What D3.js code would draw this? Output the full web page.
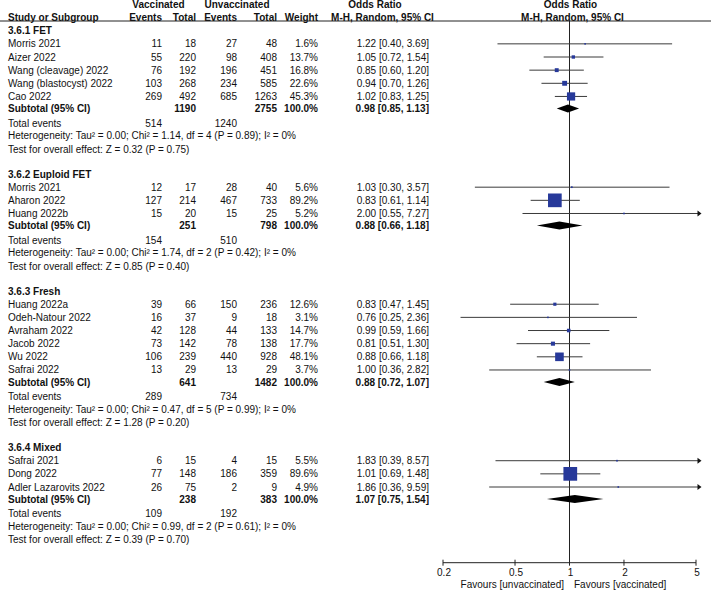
<!DOCTYPE html>
<html>
<head>
<meta charset="utf-8">
<script src="https://cdn.jsdelivr.net/npm/d3@7/dist/d3.min.js"></script>
<style>
  html, body { margin: 0; padding: 0; background: #fff; }
  svg text { font-family: "Liberation Sans", Arial, sans-serif; font-size: 10px; fill: #111; }
</style>
</head>
<body>
<svg id="chart" width="711" height="590"></svg>
<script>
// ---------- DATA ----------
const subgroupNames = ["3.6.1 FET", "3.6.2 Euploid FET", "3.6.3 Fresh", "3.6.4 Mixed"];

const studyNames = [
  "Morris 2021", "Aizer 2022", "Wang (cleavage) 2022", "Wang (blastocyst) 2022", "Cao 2022",
  "Morris 2021", "Aharon 2022", "Huang 2022b",
  "Huang 2022a", "Odeh-Natour 2022", "Avraham 2022", "Jacob 2022", "Wu 2022", "Safrai 2022",
  "Safrai 2021", "Dong 2022", "Adler Lazarovits 2022"
];
const studyGroup   = [0,0,0,0,0, 1,1,1, 2,2,2,2,2,2, 3,3,3];
const vacEvents    = [11, 55, 76, 103, 269, 12, 127, 15, 39, 16, 42, 73, 106, 13, 6, 77, 26];
const vacTotals    = [18, 220, 192, 268, 492, 17, 214, 20, 66, 37, 128, 142, 239, 29, 15, 148, 75];
const unvacEvents  = [27, 98, 196, 234, 685, 28, 467, 15, 150, 9, 44, 78, 440, 13, 4, 186, 2];
const unvacTotals  = [48, 408, 451, 585, 1263, 40, 733, 25, 236, 18, 133, 138, 928, 29, 15, 359, 9];
const weights      = [1.6, 13.7, 16.8, 22.6, 45.3, 5.6, 89.2, 5.2, 12.6, 3.1, 14.7, 17.7, 48.1, 3.7, 5.5, 89.6, 4.9];
const oddsRatios   = [1.22, 1.05, 0.85, 0.94, 1.02, 1.03, 0.83, 2.00, 0.83, 0.76, 0.99, 0.81, 0.88, 1.00, 1.83, 1.01, 1.86];
const ciLower      = [0.40, 0.72, 0.60, 0.70, 0.83, 0.30, 0.61, 0.55, 0.47, 0.25, 0.59, 0.51, 0.66, 0.36, 0.39, 0.69, 0.36];
const ciUpper      = [3.69, 1.54, 1.20, 1.26, 1.25, 3.57, 1.14, 7.27, 1.45, 2.36, 1.66, 1.30, 1.18, 2.82, 8.57, 1.48, 9.59];

const subVacTotals   = [1190, 251, 641, 238];
const subUnvacTotals = [2755, 798, 1482, 383];
const subOR          = [0.98, 0.88, 0.88, 1.07];
const subLower       = [0.85, 0.66, 0.72, 0.75];
const subUpper       = [1.13, 1.18, 1.07, 1.54];
const totalVacEvents   = [514, 154, 289, 109];
const totalUnvacEvents = [1240, 510, 734, 192];
const heterogeneity = [
  "Heterogeneity: Tau² = 0.00; Chi² = 1.14, df = 4 (P = 0.89); I² = 0%",
  "Heterogeneity: Tau² = 0.00; Chi² = 1.74, df = 2 (P = 0.42); I² = 0%",
  "Heterogeneity: Tau² = 0.00; Chi² = 0.47, df = 5 (P = 0.99); I² = 0%",
  "Heterogeneity: Tau² = 0.00; Chi² = 0.99, df = 2 (P = 0.61); I² = 0%"
];
const overallEffect = [
  "Test for overall effect: Z = 0.32 (P = 0.75)",
  "Test for overall effect: Z = 0.85 (P = 0.40)",
  "Test for overall effect: Z = 1.28 (P = 0.20)",
  "Test for overall effect: Z = 0.39 (P = 0.70)"
];
const axisTicks = [0.2, 0.5, 1, 2, 5];
const favoursLabels = ["Favours [unvaccinated]", "Favours [vaccinated]"];

// ---------- LAYOUT ----------
const svg = d3.select("#chart");
const fmt2 = d3.format(".2f");
const orText = (o, l, u) => `${fmt2(o)} [${fmt2(l)}, ${fmt2(u)}]`;

const x = d3.scaleLog().domain([0.2, 5]).range([443, 696]);
const rowY = d3.scaleLinear().domain([0, 1]).range([30.7, 43.85]);
const sectionGap = 1.9;
const axisY = 562.7;

const col = { name: 8, vE: 162, vT: 196, uE: 237, uT: 277, w: 318, or: 429 };

// build rows
const rows = [];
let cursor = 0;
subgroupNames.forEach((g, gi) => {
  rows.push({ type: "head", gi, r: cursor++ });
  studyNames.forEach((n, i) => {
    if (studyGroup[i] === gi) rows.push({ type: "study", gi, i, r: cursor++ });
  });
  rows.push({ type: "sub", gi, r: cursor++ - 0.08 });
  rows.push({ type: "tot", gi, r: cursor++ + 0.03 });
  rows.push({ type: "het", gi, r: cursor++ });
  rows.push({ type: "eff", gi, r: cursor++ });
  cursor += sectionGap - 1;
});

// ---------- HEADER ----------
const hdr = svg.append("g").attr("font-weight", "bold");
function htext(xp, yp, t, anchor) {
  hdr.append("text").attr("x", xp).attr("y", yp).attr("dy", "0.35em")
    .attr("text-anchor", anchor).attr("font-weight", "bold").text(t);
}
htext(158.5, 4.5, "Vaccinated", "middle");
htext(237, 4.5, "Unvaccinated", "middle");
htext(375, 4.5, "Odds Ratio", "middle");
htext(570.5, 4.5, "Odds Ratio", "middle");
htext(col.name, 17, "Study or Subgroup", "start");
htext(col.vE, 17, "Events", "end");
htext(col.vT, 17, "Total", "end");
htext(col.uE, 17, "Events", "end");
htext(col.uT, 17, "Total", "end");
htext(col.w, 17, "Weight", "end");
htext(382.5, 17, "M-H, Random, 95% CI", "middle");
htext(572.5, 17, "M-H, Random, 95% CI", "middle");
svg.append("line").attr("x1", 0).attr("x2", 711).attr("y1", 21).attr("y2", 21)
  .attr("stroke", "#222").attr("stroke-width", 1);

// reference line
svg.append("line").attr("x1", x(1)).attr("x2", x(1)).attr("y1", 21).attr("y2", axisY)
  .attr("stroke", "#222").attr("stroke-width", 1);

// ---------- TABLE TEXT ----------
const body = svg.append("g");
function t(xp, yp, s, anchor, bold) {
  body.append("text").attr("x", xp).attr("y", yp).attr("dy", "0.35em")
    .attr("text-anchor", anchor || "start")
    .attr("font-weight", bold ? "bold" : "normal").text(s);
}

const sqSize = d3.scalePow().exponent(0.75).domain([0, 100]).range([0, 14.9]);
const plot = svg.append("g");

rows.forEach(row => {
  const yp = rowY(row.r);
  const gi = row.gi;
  if (row.type === "head") {
    t(col.name, yp, subgroupNames[gi], "start", true);
  } else if (row.type === "study") {
    const i = row.i;
    t(col.name, yp, studyNames[i]);
    t(col.vE, yp, vacEvents[i], "end");
    t(col.vT, yp, vacTotals[i], "end");
    t(col.uE, yp, unvacEvents[i], "end");
    t(col.uT, yp, unvacTotals[i], "end");
    t(col.w, yp, weights[i].toFixed(1) + "%", "end");
    t(col.or, yp, orText(oddsRatios[i], ciLower[i], ciUpper[i]), "end");
    // CI line
    const lo = Math.max(ciLower[i], 0.2), hi = Math.min(ciUpper[i], 5);
    const over = ciUpper[i] > 5;
    plot.append("line").attr("x1", x(lo)).attr("x2", over ? x(5) + 3 : x(hi))
      .attr("y1", yp).attr("y2", yp).attr("stroke", "#3a3a3a").attr("stroke-width", 1);
    if (over) {
      const tx = x(5) + 5.5;
      plot.append("path")
        .attr("d", `M${tx},${yp} L${tx - 4},${yp - 3} L${tx - 4},${yp + 3} Z`)
        .attr("fill", "#111");
    }
    const s = Math.max(sqSize(weights[i]), 1.6);
    plot.append("rect").attr("x", x(oddsRatios[i]) - s / 2).attr("y", yp - s / 2)
      .attr("width", s).attr("height", s).attr("fill", "#27399a");
  } else if (row.type === "sub") {
    t(col.name, yp, "Subtotal (95% CI)", "start", true);
    t(col.vT, yp, subVacTotals[gi], "end", true);
    t(col.uT, yp, subUnvacTotals[gi], "end", true);
    t(col.w, yp, "100.0%", "end", true);
    t(col.or, yp, orText(subOR[gi], subLower[gi], subUpper[gi]), "end", true);
    const h = 4;
    plot.append("path")
      .attr("d", `M${x(subLower[gi])},${yp} L${x(subOR[gi])},${yp - h} L${x(subUpper[gi])},${yp} L${x(subOR[gi])},${yp + h} Z`)
      .attr("fill", "#000");
  } else if (row.type === "tot") {
    t(col.name, yp, "Total events");
    t(col.vE, yp, totalVacEvents[gi], "end");
    t(col.uE, yp, totalUnvacEvents[gi], "end");
  } else if (row.type === "het") {
    t(col.name, yp, heterogeneity[gi]);
  } else if (row.type === "eff") {
    t(col.name, yp, overallEffect[gi]);
  }
});

// ---------- AXIS ----------
const ax = svg.append("g");
ax.append("line").attr("x1", x(0.2)).attr("x2", x(5)).attr("y1", axisY).attr("y2", axisY)
  .attr("stroke", "#222").attr("stroke-width", 1);
axisTicks.forEach(v => {
  ax.append("line").attr("x1", x(v)).attr("x2", x(v)).attr("y1", axisY - 3).attr("y2", axisY + 3)
    .attr("stroke", "#222").attr("stroke-width", 1);
  ax.append("text").attr("x", x(v) + 1).attr("y", axisY + 10).attr("dy", "0.35em")
    .attr("text-anchor", "middle").text(String(v));
});
ax.append("text").attr("x", x(1) - 5.5).attr("y", 584.5).attr("dy", "0.35em")
  .attr("text-anchor", "end").text(favoursLabels[0]);
ax.append("text").attr("x", x(1) + 4.5).attr("y", 584.5).attr("dy", "0.35em")
  .attr("text-anchor", "start").text(favoursLabels[1]);
</script>
</body>
</html>
